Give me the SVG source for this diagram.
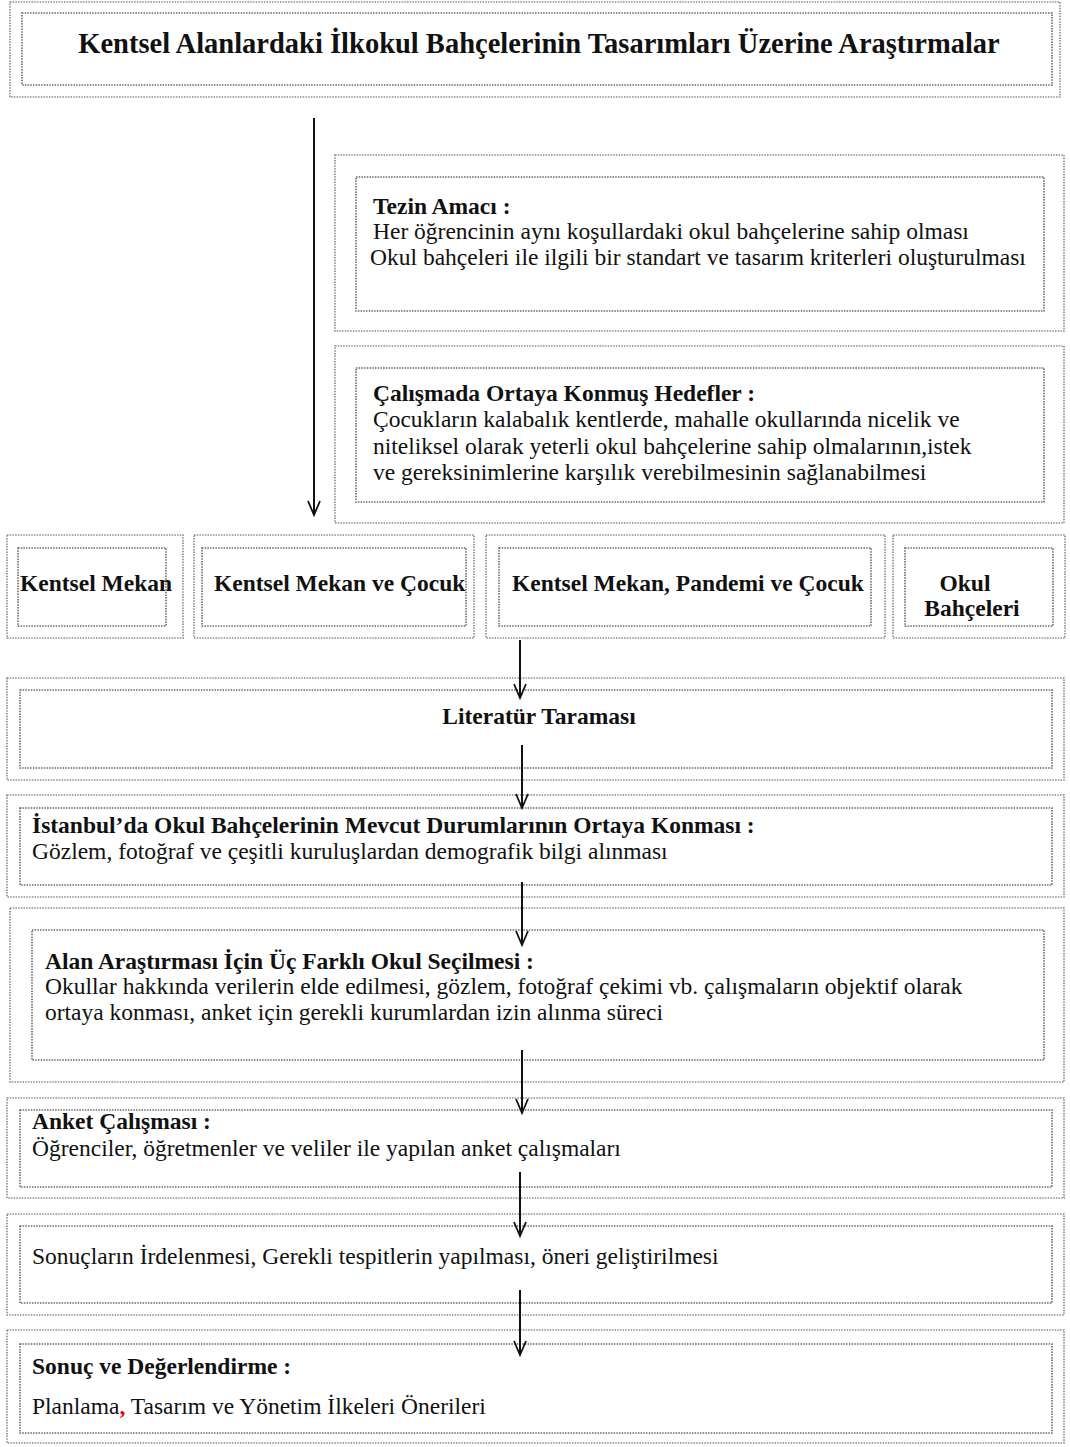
<svg xmlns="http://www.w3.org/2000/svg" width="1070" height="1447" viewBox="0 0 1070 1447">
<defs>
<style>
.o{fill:none;stroke:#8a8a8a;stroke-width:1.6;stroke-dasharray:1.5 1.2}
.i{fill:none;stroke:#6a6a6a;stroke-width:1.6;stroke-dasharray:1.5 1.2}
.t{font-family:"Liberation Serif","Times New Roman",serif;fill:#111;font-size:23.5px}
.b{font-weight:bold}
.h{font-size:28.5px}
.c{stroke:#111;stroke-width:2;fill:none}
</style>
<marker id="ah" markerWidth="18" markerHeight="14" refX="16" refY="7" orient="auto" markerUnits="userSpaceOnUse" viewBox="0 0 18 14">
<polyline points="2,1 16,7 2,13" fill="none" stroke="#111" stroke-width="1.8"/>
</marker>
</defs>
<rect width="1070" height="1447" fill="#fff"/>

<g id="title">
<rect class="o" x="10" y="2" width="1050" height="95"/>
<rect class="i" x="22" y="13" width="1030" height="72"/>
<text class="t b h" x="539" y="53" text-anchor="middle">Kentsel Alanlardaki İlkokul Bahçelerinin Tasarımları Üzerine Araştırmalar</text>
</g>

<g id="tezin">
<rect class="o" x="335" y="155" width="729" height="176"/>
<rect class="i" x="356" y="177" width="688" height="134"/>
<text class="t b" x="373" y="214">Tezin Amacı :</text>
<text class="t" x="373" y="239">Her öğrencinin aynı koşullardaki okul bahçelerine sahip olması</text>
<text class="t" x="370" y="265">Okul bahçeleri ile ilgili bir standart ve tasarım kriterleri oluşturulması</text>
</g>

<g id="hedefler">
<rect class="o" x="335" y="346" width="729" height="177"/>
<rect class="i" x="356" y="368" width="688" height="134"/>
<text class="t b" x="373" y="401">Çalışmada Ortaya Konmuş Hedefler :</text>
<text class="t" x="373" y="427">Çocukların kalabalık kentlerde, mahalle okullarında nicelik ve</text>
<text class="t" x="373" y="454">niteliksel olarak yeterli okul bahçelerine sahip olmalarının,istek</text>
<text class="t" x="373" y="480">ve gereksinimlerine karşılık verebilmesinin sağlanabilmesi</text>
</g>

<g id="kentsel-mekan">
<rect class="o" x="7" y="535" width="176" height="103"/>
<rect class="i" x="18" y="548" width="148" height="78"/>
<text class="t b" x="20" y="591">Kentsel Mekan</text>
</g>

<g id="kentsel-mekan-cocuk">
<rect class="o" x="194" y="535" width="280" height="103"/>
<rect class="i" x="202" y="548" width="264" height="78"/>
<text class="t b" x="214" y="591">Kentsel Mekan ve Çocuk</text>
</g>

<g id="kentsel-mekan-pandemi">
<rect class="o" x="486" y="535" width="399" height="103"/>
<rect class="i" x="499" y="548" width="372" height="78"/>
<text class="t b" x="512" y="591">Kentsel Mekan, Pandemi ve Çocuk</text>
</g>

<g id="okul-bahceleri">
<rect class="o" x="893" y="535" width="172" height="103"/>
<rect class="i" x="905" y="548" width="148" height="78"/>
<text class="t b" x="965" y="591" text-anchor="middle">Okul</text>
<text class="t b" x="972" y="616" text-anchor="middle">Bahçeleri</text>
</g>

<g id="literatur">
<rect class="o" x="7" y="678" width="1057" height="102"/>
<rect class="i" x="20" y="690" width="1032" height="78"/>
<text class="t b" x="539" y="724" text-anchor="middle">Literatür Taraması</text>
</g>

<g id="istanbul">
<rect class="o" x="7" y="795" width="1057" height="102"/>
<rect class="i" x="20" y="808" width="1032" height="77"/>
<text class="t b" x="32" y="833">İstanbul’da Okul Bahçelerinin Mevcut Durumlarının Ortaya Konması :</text>
<text class="t" x="32" y="859">Gözlem, fotoğraf ve çeşitli kuruluşlardan demografik bilgi alınması</text>
</g>

<g id="alan">
<rect class="o" x="10" y="908" width="1054" height="174"/>
<rect class="i" x="32" y="930" width="1012" height="130"/>
<text class="t b" x="45" y="969">Alan Araştırması İçin Üç Farklı Okul Seçilmesi :</text>
<text class="t" x="45" y="994">Okullar hakkında verilerin elde edilmesi, gözlem, fotoğraf çekimi vb. çalışmaların objektif olarak</text>
<text class="t" x="45" y="1020">ortaya konması, anket için gerekli kurumlardan izin alınma süreci</text>
</g>

<g id="anket">
<rect class="o" x="7" y="1098" width="1057" height="100"/>
<rect class="i" x="20" y="1110" width="1032" height="77"/>
<text class="t b" x="32" y="1129">Anket Çalışması :</text>
<text class="t" x="32" y="1156">Öğrenciler, öğretmenler ve veliler ile yapılan anket çalışmaları</text>
</g>

<g id="sonuclarin">
<rect class="o" x="7" y="1214" width="1057" height="101"/>
<rect class="i" x="20" y="1226" width="1032" height="77"/>
<text class="t" x="32" y="1264">Sonuçların İrdelenmesi, Gerekli tespitlerin yapılması, öneri geliştirilmesi</text>
</g>

<g id="sonuc">
<rect class="o" x="7" y="1330" width="1057" height="113"/>
<rect class="i" x="20" y="1344" width="1032" height="89"/>
<text class="t b" x="32" y="1374">Sonuç ve Değerlendirme :</text>
<text class="t" x="32" y="1414">Planlama<tspan fill="#e01010" font-weight="bold">,</tspan> Tasarım ve Yönetim İlkeleri Önerileri</text>
</g>

<g id="connectors">
<line class="c" x1="314" y1="118" x2="314" y2="515" marker-end="url(#ah)"/>
<line class="c" x1="520" y1="640" x2="520" y2="698" marker-end="url(#ah)"/>
<line class="c" x1="522" y1="745" x2="522" y2="808" marker-end="url(#ah)"/>
<line class="c" x1="522" y1="882" x2="522" y2="945" marker-end="url(#ah)"/>
<line class="c" x1="522" y1="1050" x2="522" y2="1113" marker-end="url(#ah)"/>
<line class="c" x1="520" y1="1172" x2="520" y2="1236" marker-end="url(#ah)"/>
<line class="c" x1="520" y1="1290" x2="520" y2="1355" marker-end="url(#ah)"/>
</g>
</svg>
